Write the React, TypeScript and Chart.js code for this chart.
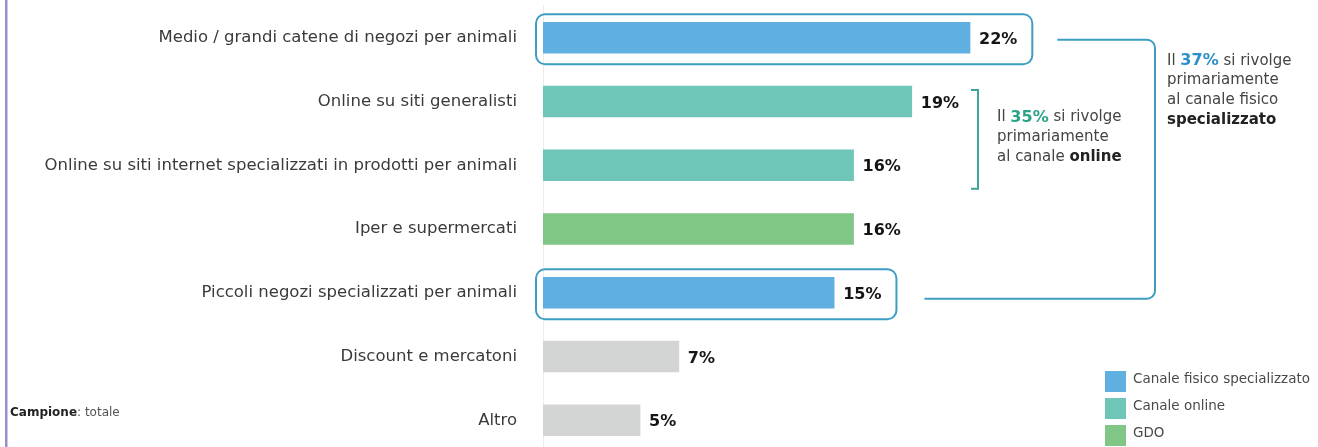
import React, { useEffect, useRef } from "react";
import { Chart, registerables } from "chart.js";

Chart.register(...registerables);

// ---------- DATA ----------
const categories = [
  "Medio / grandi catene di negozi per animali",
  "Online su siti generalisti",
  "Online su siti internet specializzati in prodotti per animali",
  "Iper e supermercati",
  "Piccoli negozi specializzati per animali",
  "Discount e mercatoni",
  "Altro",
];
const values = [22, 19, 16, 16, 15, 7, 5];
const channels = ["fisico", "online", "online", "gdo", "fisico", "altro", "altro"];
const legendKeys = ["fisico", "online", "gdo"];
const legendLabels = ["Canale fisico specializzato", "Canale online", "GDO"];
const onlineShare = "35%";
const physicalShare = "37%";
const sampleBold = "Campione";
const sampleText = ": totale";

// ---------- STYLE ----------
const FONT = "'DejaVu Sans', 'Open Sans', sans-serif";
const channelColors: Record<string, string> = {
  fisico: "#5fb0e0",
  online: "#6fc6b8",
  gdo: "#80c687",
  altro: "#d3d4d4",
};
const FRAME_BLUE = "#3d9dc3";
const BRACKET_TEAL = "#3ea596";
const TEXT = "#444444";

type Seg = { t: string; bold?: boolean; color?: string; size?: number };

function drawRich(ctx: CanvasRenderingContext2D, x: number, y: number, segs: Seg[], size: number) {
  let cx = x;
  for (const s of segs) {
    const sz = s.size || size;
    ctx.font = `${s.bold ? "700" : "400"} ${sz}px ${FONT}`;
    ctx.fillStyle = s.color || TEXT;
    ctx.textAlign = "left";
    ctx.textBaseline = "middle";
    ctx.fillText(s.t, cx, y);
    cx += ctx.measureText(s.t).width;
  }
}

const annotationPlugin = {
  id: "annotations",
  afterDraw(chart: any) {
    const ctx: CanvasRenderingContext2D = chart.ctx;
    const bars = chart.getDatasetMeta(0).data;
    const base = chart.chartArea.left;
    ctx.save();

    // left purple rule
    ctx.fillStyle = "#9d8bcf";
    ctx.fillRect(5, 0, 2.5, chart.height);

    // value labels
    const valueFont = `700 16px ${FONT}`;
    const labelEnds: number[] = [];
    bars.forEach((b: any, i: number) => {
      const txt = values[i] + "%";
      ctx.font = valueFont;
      ctx.fillStyle = "#151515";
      ctx.textAlign = "left";
      ctx.textBaseline = "middle";
      const lx = b.x + 9;
      ctx.fillText(txt, lx, b.y + 2);
      labelEnds.push(lx + ctx.measureText(txt).width);
    });

    // rounded frames around physical-channel bars
    ctx.strokeStyle = FRAME_BLUE;
    ctx.lineWidth = 2;
    const frameRight: Record<number, number> = {};
    [0, 4].forEach((i) => {
      const b = bars[i];
      const h = b.height;
      const x0 = base - 7;
      const y0 = b.y - h / 2 - 8;
      const x1 = labelEnds[i] + 15;
      const y1 = b.y + h / 2 + 11;
      ctx.beginPath();
      (ctx as any).roundRect(x0, y0, x1 - x0, y1 - y0, 9);
      ctx.stroke();
      frameRight[i] = x1;
    });

    // big bracket joining the two frames
    const vx = 1155;
    const yt = bars[0].y + 2;
    const yb = bars[4].y + 6;
    const r = 8;
    ctx.beginPath();
    ctx.moveTo(frameRight[0] + 25, yt);
    ctx.lineTo(vx - r, yt);
    ctx.arcTo(vx, yt, vx, yt + r, r);
    ctx.lineTo(vx, yb - r);
    ctx.arcTo(vx, yb, vx - r, yb, r);
    ctx.lineTo(frameRight[4] + 28, yb);
    ctx.stroke();

    // online bracket
    const ox = 978;
    const oyt = bars[1].y - bars[1].height / 2 + 4;
    const oyb = bars[2].y + bars[2].height / 2 + 8;
    ctx.strokeStyle = BRACKET_TEAL;
    ctx.beginPath();
    ctx.moveTo(ox - 7, oyt);
    ctx.lineTo(ox, oyt);
    ctx.lineTo(ox, oyb);
    ctx.lineTo(ox - 7, oyb);
    ctx.stroke();

    // online text
    const otx = ox + 19;
    const oty = bars[1].y + 16;
    drawRich(ctx, otx, oty, [
      { t: "Il " },
      { t: onlineShare, bold: true, color: "#2aa386", size: 16 },
      { t: " si rivolge" },
    ], 15);
    drawRich(ctx, otx, oty + 20, [{ t: "primariamente" }], 15);
    drawRich(ctx, otx, oty + 40, [{ t: "al canale " }, { t: "online", bold: true, color: "#222" }], 15);

    // physical text
    const ptx = vx + 12;
    const pty = bars[0].y + 23;
    drawRich(ctx, ptx, pty, [
      { t: "Il " },
      { t: physicalShare, bold: true, color: "#2b8fc9", size: 16 },
      { t: " si rivolge" },
    ], 15);
    drawRich(ctx, ptx, pty + 19.7, [{ t: "primariamente" }], 15);
    drawRich(ctx, ptx, pty + 39.4, [{ t: "al canale fisico" }], 15);
    drawRich(ctx, ptx, pty + 59.1, [{ t: "specializzato", bold: true, color: "#222" }], 15);

    // legend
    legendKeys.forEach((k, i) => {
      const sy = 371 + i * 27;
      ctx.fillStyle = channelColors[k];
      ctx.fillRect(1105, sy, 21, 21);
      drawRich(ctx, 1133, sy + 8, [{ t: legendLabels[i], color: "#4a4a4a" }], 13.5);
    });

    // sample note
    drawRich(ctx, 10, 413, [
      { t: sampleBold, bold: true, color: "#222" },
      { t: sampleText, color: "#555" },
    ], 12);

    ctx.restore();
  },
};

export default function App() {
  const ref = useRef<HTMLCanvasElement | null>(null);

  useEffect(() => {
    if (!ref.current) return;
    const chart = new Chart(ref.current, {
      type: "bar",
      data: {
        labels: categories,
        datasets: [
          {
            data: values,
            backgroundColor: channels.map((c) => channelColors[c]),
            borderWidth: 0,
            barThickness: 31,
          },
        ],
      },
      options: {
        indexAxis: "y",
        responsive: false,
        maintainAspectRatio: false,
        animation: false,
        layout: { padding: { top: 5, right: 18, left: 0, bottom: 0 } },
        plugins: {
          legend: { display: false },
          tooltip: { enabled: false },
        },
        scales: {
          x: { display: false, min: 0, max: 39 },
          y: {
            grid: { display: false, drawTicks: true, tickLength: 30 },
            border: { display: true, color: "#ececec", width: 1 },
            ticks: {
              padding: -4,
              color: "#3a3a3a",
              font: { family: FONT, size: 16.5 },
            },
            afterFit: (s: any) => {
              s.width = 543;
            },
          },
        },
      },
      plugins: [annotationPlugin],
    } as any);
    return () => chart.destroy();
  }, []);

  return (
    <div
      style={{
        position: "fixed",
        left: 0,
        top: 0,
        width: 1318,
        height: 447,
        overflow: "hidden",
        background: "#fff",
      }}
    >
      <canvas ref={ref} width={1318} height={458} style={{ width: 1318, height: 458, display: "block" }} />
    </div>
  );
}
